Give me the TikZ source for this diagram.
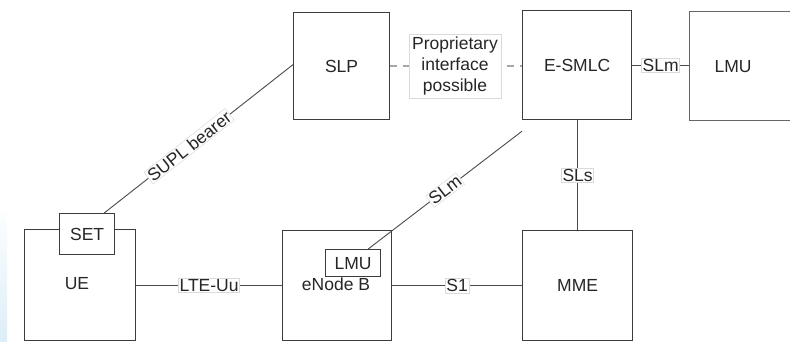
\documentclass[tikz,border=0pt]{standalone}
\usepackage{fontspec}
\setmainfont{Liberation Sans}
\usetikzlibrary{positioning}
\definecolor{boxline}{HTML}{3C3C3C}
\definecolor{wireline}{HTML}{4A4A4A}
\definecolor{tagline}{HTML}{DADADA}
\definecolor{inktext}{HTML}{262626}
\definecolor{edgeblue}{HTML}{DCEEF9}
\begin{document}
\begin{tikzpicture}[x=1pt,y=-1pt,
  every node/.style={font=\fontsize{17.5}{21}\selectfont, text=inktext},
  entity/.style={draw=boxline, line width=1.2pt, fill=white, anchor=north west, inner sep=0pt},
  wire/.style={draw=wireline, line width=0.9pt},
  optwire/.style={draw=gray!70, line width=1.4pt, dash pattern=on 7pt off 6pt},
  tag/.style={draw=tagline, line width=0.5pt, fill=white, inner sep=1pt, align=center}
]
\useasboundingbox (0,0) rectangle (790,341);

% faint blue fade along the lower left edge
\shade[top color=white, bottom color=edgeblue] (0,200) rectangle (7,341);

% network elements
\node[entity, minimum width=111pt, minimum height=111pt] (UE) at (24,229) {};
\node at (77,284) {UE};
\node[entity, minimum width=55pt, minimum height=41pt] (SET) at (59,213) {SET};

\node[entity, minimum width=109pt, minimum height=110pt] (ENB) at (282,230) {};
\node at (336,284) {eNode B};
\node[entity, minimum width=55pt, minimum height=27pt] (LMUin) at (325,249) {LMU};

\node[entity, minimum width=110pt, minimum height=110pt] (MME) at (522,230) {MME};

\node[entity, minimum width=96pt, minimum height=107pt] (SLP) at (293,12) {SLP};
\node[entity, minimum width=109pt, minimum height=109pt] (ESMLC) at (522,10) {E-SMLC};
\node[entity, draw=gray!80!black, minimum width=120pt, minimum height=109pt,
      text width=100pt, align=left] (LMU) at (689,11) {\hspace*{15pt}LMU};

% interfaces
\path[wire] (UE.east) -- node[tag] {LTE-Uu} (UE.east -| ENB.west);
\path[wire] (ENB.east) -- node[tag] {S1} (ENB.east -| MME.west);
\path[wire] (MME.north) -- node[tag] {SLs} (MME.north |- ESMLC.south);
\path[wire] (ESMLC.east) -- node[tag] {SLm} (ESMLC.east -| LMU.west);
\path[optwire] (SLP.east) -- (SLP.east -| ESMLC.west);
\node[tag, inner sep=3pt] (prop) at (455,66) {Proprietary\\interface\\possible};
\coordinate (setTop) at ([xshift=-11pt]SET.north east);
\coordinate (slpIn) at ([yshift=1.5pt]SLP.west);
\path[wire] (setTop) -- node[tag, sloped, pos=0.45] {SUPL bearer} (slpIn);
\coordinate (lmuTop) at ([xshift=-13pt]LMUin.north east);
\coordinate (smlcIn) at ([yshift=-11pt]ESMLC.south west);
\path[wire] (lmuTop) -- node[tag, sloped] {SLm} (smlcIn);
\end{tikzpicture}
\end{document}
